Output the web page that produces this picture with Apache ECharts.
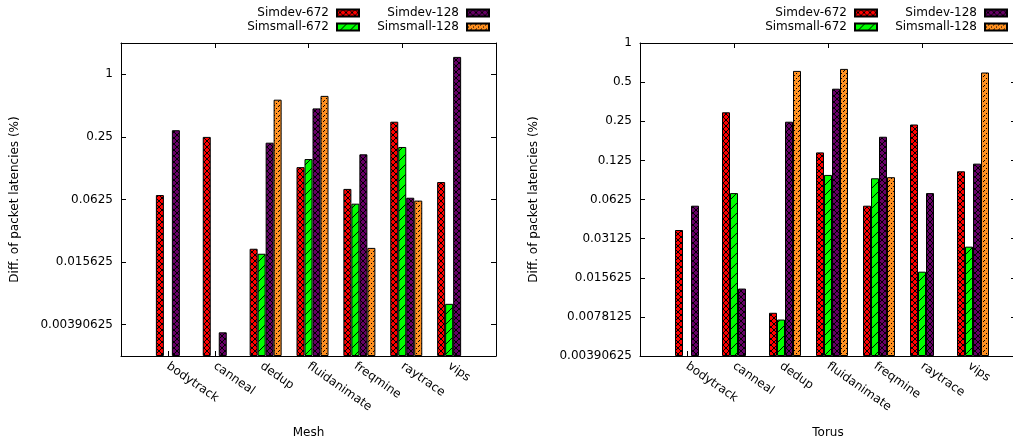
<!DOCTYPE html>
<html>
<head>
<meta charset="utf-8">
<script src="https://cdn.jsdelivr.net/npm/echarts@6/dist/echarts.min.js"></script>
<style>
  html, body { margin: 0; padding: 0; background: #fff; }
  #chart { width: 1013px; height: 440px; }
</style>
</head>
<body>
<div id="chart"></div>
<script>
// benchmarks on the x axis
var benchmarks = ["bodytrack", "canneal", "dedup", "fluidanimate", "freqmine", "raytrace", "vips"];
var seriesNames = ["Simdev-672", "Simsmall-672", "Simdev-128", "Simsmall-128"];

// Mesh panel (null = below the axis, not drawn)
var meshSimdev672   = [0.069, 0.25, 0.021, 0.128, 0.079, 0.35, 0.092];
var meshSimsmall672 = [null, null, 0.0188, 0.153, 0.057, 0.2, 0.0062];
var meshSimdev128   = [0.29, 0.0033, 0.22, 0.47, 0.17, 0.065, 1.47];
var meshSimsmall128 = [null, null, 0.57, 0.62, 0.0214, 0.061, null];

// Torus panel
var torusSimdev672   = [0.0364, 0.293, 0.0084, 0.144, 0.056, 0.236, 0.103];
var torusSimsmall672 = [null, 0.07, 0.00745, 0.0966, 0.091, 0.0174, 0.0271];
var torusSimdev128   = [0.056, 0.0129, 0.248, 0.445, 0.19, 0.07, 0.118];
var torusSimsmall128 = [null, null, 0.61, 0.632, 0.0928, null, 0.593];

var FONT = "DejaVu Sans";

// fill patterns like gnuplot's
function tile(bg, size, draw) {
  var c = document.createElement("canvas");
  c.width = c.height = size;
  var g = c.getContext("2d");
  g.fillStyle = bg;
  g.fillRect(0, 0, size, size);
  g.strokeStyle = "#000";
  g.fillStyle = "#000";
  g.lineWidth = 1;
  draw(g, size);
  return { image: c, repeat: "repeat" };
}
function cross(g, s) {
  g.beginPath();
  g.moveTo(0, 0); g.lineTo(s, s);
  g.moveTo(0, s); g.lineTo(s, 0);
  g.stroke();
}
function slash(g, s) {
  g.beginPath();
  for (var k = -1; k <= 1; k++) {
    g.moveTo(k * s, s); g.lineTo(k * s + s, 0);
  }
  g.stroke();
}
function dashes(g, s) {
  // short dashes along a "/" diagonal
  g.fillRect(s - 1, 0, 1, 1);
  g.fillRect(s - 2, 1, 1, 1);
  g.fillRect(1, s - 2, 1, 1);
}
var fills = [
  tile("#ff0000", 6, cross),
  tile("#00ff00", 10, slash),
  tile("#660066", 6, cross),
  tile("#ff9020", 5, dashes)
];

// padded categories so the range runs from -1 to 7 like the original
var cats = [""].concat(benchmarks, [""]);
function pad(arr) { return [null].concat(arr, [null]); }

var grids = [
  { left: 121, top: 43, width: 375, height: 313, outerBoundsMode: "none", containLabel: false },
  { left: 640, top: 43, width: 376, height: 313, outerBoundsMode: "none", containLabel: false }
];

function xAxes(gi, title) {
  return [
    {
      type: "category", gridIndex: gi, data: cats, boundaryGap: false, position: "bottom",
      axisLine: { lineStyle: { color: "#000", width: 1 } },
      axisTick: { inside: true, length: 5, lineStyle: { color: "#000" } },
      axisLabel: { interval: 0, rotate: -35, margin: 9, color: "#000", fontFamily: FONT, fontSize: 12 },
      name: title, nameLocation: "middle", nameGap: 71,
      nameTextStyle: { color: "#000", fontFamily: FONT, fontSize: 12 }
    },
    {
      type: "category", gridIndex: gi, data: cats, boundaryGap: false, position: "top",
      axisLine: { lineStyle: { color: "#000", width: 1 } },
      axisTick: { inside: true, length: 5, lineStyle: { color: "#000" } },
      axisLabel: { show: false }
    }
  ];
}

function yAxes(gi, base, min, max, showEnds) {
  var common = {
    type: "log", gridIndex: gi, logBase: base, min: min, max: max, startValue: min,
    splitLine: { show: false },
    axisLine: { show: true, lineStyle: { color: "#000", width: 1 } },
    axisTick: { show: true, inside: true, length: 5, lineStyle: { color: "#000" } }
  };
  return [
    Object.assign({}, common, {
      position: "left",
      axisLabel: {
        margin: 8, color: "#000", fontFamily: FONT, fontSize: 12,
        showMinLabel: showEnds, showMaxLabel: showEnds,
        formatter: function (v) { return String(+(+v).toPrecision(8)); }
      },
      name: "Diff. of packet latencies (%)", nameLocation: "middle", nameGap: 100,
      nameTextStyle: { color: "#000", fontFamily: FONT, fontSize: 12 }
    }),
    Object.assign({}, common, { position: "right", axisLabel: { show: false } })
  ];
}

function barSeries(gi, lists) {
  // an empty leading series shifts each group so the tick sits on the 2nd bar, as gnuplot does
  var out = [{
    type: "bar", name: "_pad", xAxisIndex: gi * 2, yAxisIndex: gi * 2,
    data: pad([null, null, null, null, null, null, null]), barWidth: 8, barGap: "0%", silent: true
  }];
  lists.forEach(function (arr, i) {
    out.push({
      type: "bar", name: seriesNames[i], xAxisIndex: gi * 2, yAxisIndex: gi * 2,
      data: pad(arr), barWidth: 8, barGap: "0%",
      itemStyle: { color: fills[i], borderColor: "#000", borderWidth: 1 }
    });
  });
  return out;
}

// one legend per entry so the texts are right-aligned against their swatches
var legendSpots = [
  { name: "Simdev-672", right: 653, top: 6 },
  { name: "Simsmall-672", right: 653, top: 20 },
  { name: "Simdev-128", right: 523, top: 6 },
  { name: "Simsmall-128", right: 523, top: 20 },
  { name: "Simdev-672", right: 135, top: 6 },
  { name: "Simsmall-672", right: 135, top: 20 },
  { name: "Simdev-128", right: 5, top: 6 },
  { name: "Simsmall-128", right: 5, top: 20 }
];
var legends = legendSpots.map(function (l) {
  return {
    data: [{ name: l.name, icon: "rect" }], right: l.right, top: l.top, align: "right", padding: 0,
    itemWidth: 22, itemHeight: 7, selectedMode: false,
    textStyle: { color: "#000", fontFamily: FONT, fontSize: 12, lineHeight: 14, padding: [0, 3, 0, 0] }
  };
});

var chart = echarts.init(document.getElementById("chart"));
chart.setOption({
  animation: false,
  backgroundColor: "#fff",
  legend: legends,
  grid: grids,
  xAxis: xAxes(0, "Mesh").concat(xAxes(1, "Torus")),
  yAxis: yAxes(0, 4, 0.001953125, 2, false).concat(yAxes(1, 2, 0.00390625, 1, true)),
  series: barSeries(0, [meshSimdev672, meshSimsmall672, meshSimdev128, meshSimsmall128])
    .concat(barSeries(1, [torusSimdev672, torusSimsmall672, torusSimdev128, torusSimsmall128]))
});
</script>
</body>
</html>
